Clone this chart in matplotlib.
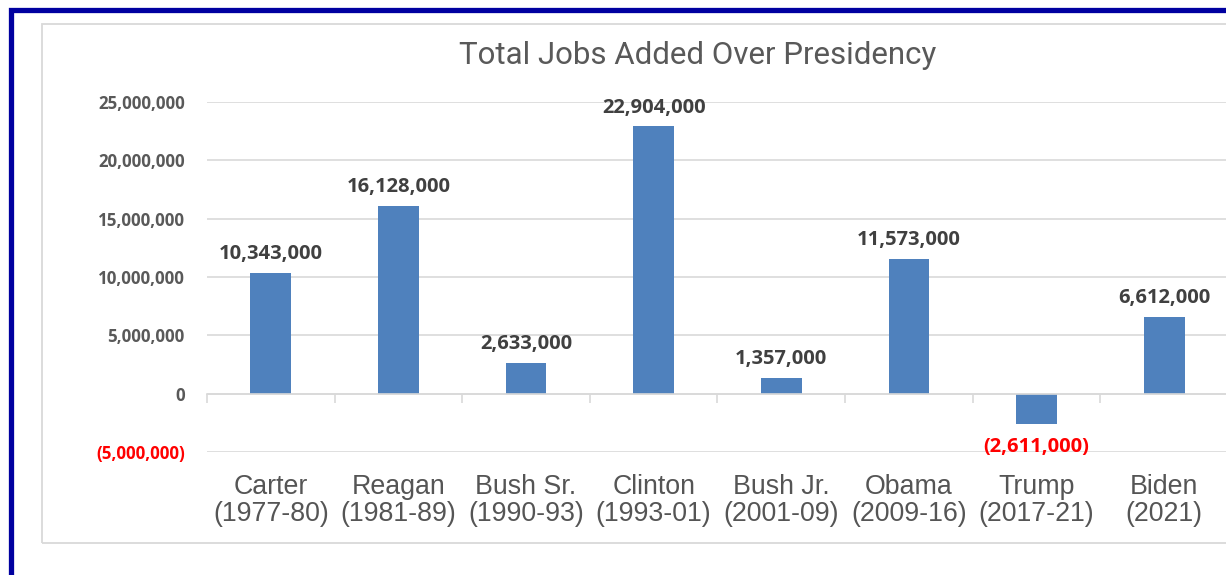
import matplotlib
matplotlib.use("Agg")
import matplotlib.pyplot as plt
from matplotlib.patches import Rectangle
from matplotlib.ticker import FuncFormatter, FixedLocator
import numpy as np

# data
presidents = ["Carter", "Reagan", "Bush Sr.", "Clinton", "Bush Jr.", "Obama", "Trump", "Biden"]
terms = ["(1977-80)", "(1981-89)", "(1990-93)", "(1993-01)", "(2001-09)", "(2009-16)", "(2017-21)", "(2021)"]
jobs_added = [10343000, 16128000, 2633000, 22904000, 1357000, 11573000, -2611000, 6612000]
y_ticks = [-5000000, 0, 5000000, 10000000, 15000000, 20000000, 25000000]

BAR = "#4F81BD"
GRID = "#D9D9D9"
TXT = "#595959"
LBL = "#404040"

def fmt_num(v):
    if v < 0:
        return f"({abs(v):,.0f})"
    return f"{v:,.0f}"

fig = plt.figure(figsize=(12.26, 5.75), dpi=100)
W, H = 1226, 575

# dark blue frame + light gray chart border
fig.patches.append(Rectangle((10.5 / W, -0.1), 1.2, 1 - 9.5 / H + 0.1, transform=fig.transFigure,
                             fill=False, edgecolor="#0000A0", linewidth=3.8, zorder=0))
fig.patches.append(Rectangle((42 / W, 1 - 543 / H), 1.1, (543 - 24) / H, transform=fig.transFigure,
                             fill=False, edgecolor=GRID, linewidth=1.3, zorder=0))

ax = fig.add_axes([207 / W, 123 / H, 1021 / W, 350 / H])
x = np.arange(len(presidents))
ax.bar(x, jobs_added, width=0.32, color=BAR, zorder=3)

ax.set_xlim(-0.5, len(presidents) - 0.5)
ax.set_ylim(y_ticks[0], y_ticks[-1])
ax.set_yticks(y_ticks)
ax.yaxis.set_major_formatter(FuncFormatter(lambda v, p: fmt_num(v)))
ax.grid(axis="y", color=GRID, linewidth=1.2, zorder=0)
ax.set_axisbelow(True)

for s in ["top", "right", "left"]:
    ax.spines[s].set_visible(False)
ax.spines["bottom"].set_position(("data", 0))
ax.spines["bottom"].set_color(GRID)
ax.spines["bottom"].set_linewidth(1.2)
ax.spines["bottom"].set_zorder(4)

# category labels far below the zero line; boundary ticks on the zero line
ax.set_xticks(x)
ax.set_xticklabels([f"{p}\n{t}" for p, t in zip(presidents, terms)],
                   fontsize=19.3, color="#555555", family="Liberation Sans", linespacing=1.05)
ax.tick_params(axis="x", which="major", length=0, pad=58)
ax.xaxis.set_minor_locator(FixedLocator(np.arange(len(presidents) + 1) - 0.5))
ax.tick_params(axis="x", which="minor", length=6.5, width=1.2, color=GRID, direction="out")

ax.tick_params(axis="y", length=0, pad=16)
for lab in ax.get_yticklabels():
    lab.set_fontsize(12.2)
    lab.set_fontweight("bold")
    lab.set_family("Open Sans")
    lab.set_color(TXT)
for lab, v in zip(ax.get_yticklabels(), y_ticks):
    if v < 0:
        lab.set_color("#FF0000")

# data labels
for xi, v in zip(x, jobs_added):
    if v >= 0:
        ax.annotate(fmt_num(v), (xi, v), xytext=(0, 10), textcoords="offset points",
                    ha="center", va="baseline", fontsize=14.5, fontweight="bold",
                    family="Open Sans", color=LBL, zorder=5)
    else:
        ax.annotate(fmt_num(v), (xi, v), xytext=(0, -20), textcoords="offset points",
                    ha="center", va="baseline", fontsize=14.5, fontweight="bold",
                    family="Open Sans", color="#FF0000", zorder=5)

fig.text(698 / W, 1 - 56 / H, "Total Jobs Added Over Presidency", ha="center", va="center",
         fontsize=22.5, color=TXT, family="Roboto")

fig.savefig("out.png", dpi=100)
